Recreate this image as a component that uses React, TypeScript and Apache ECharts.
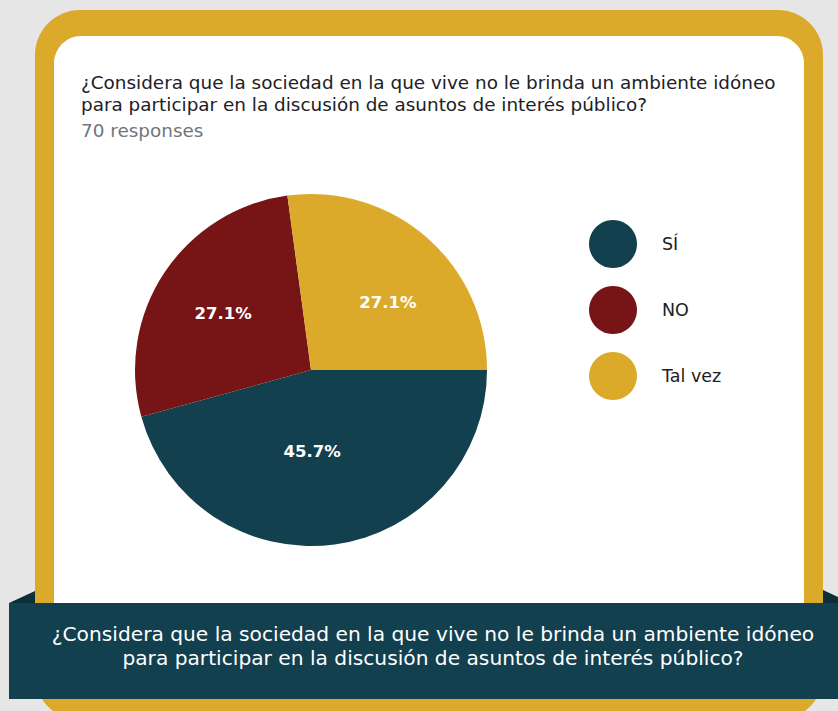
import React, { useEffect, useRef } from "react";
import * as echarts from "echarts";

const categories = ["SÍ", "NO", "Tal vez"];
const counts = [32, 19, 19];
const sliceColors = ["#13404f", "#761416", "#dcaa2a"];
const questionLines = [
  "¿Considera que la sociedad en la que vive no le brinda un ambiente idóneo",
  "para participar en la discusión de asuntos de interés público?",
];
const responsesText = "70 responses";
const labelOffsets = [[-11, -9], [-12, -6], [17, 1]];

const FONT = "'DejaVu Sans', sans-serif";

export default function App() {
  const ref = useRef<HTMLDivElement>(null);
  useEffect(() => {
    if (!ref.current) return;
    const chart = echarts.init(ref.current, undefined, { renderer: "svg" });
    const total = counts.reduce((a, b) => a + b, 0);
    chart.setOption({
      animation: false,
      backgroundColor: "#e6e6e6",
      color: sliceColors,
      legend: {
        orient: "vertical",
        left: 584,
        top: 215,
        icon: "circle",
        itemWidth: 48,
        itemHeight: 48,
        itemGap: 18,
        selectedMode: false,
        data: categories,
        textStyle: {
          fontFamily: FONT,
          fontSize: 17.5,
          color: "#202124",
          padding: [0, 0, 0, 20],
        },
      },
      graphic: [
        {
          type: "rect",
          z: -10,
          shape: { x: 35, y: 10, width: 788, height: 710, r: 45 },
          style: { fill: "#dcaa2a" },
        },
        {
          type: "rect",
          z: -9,
          shape: { x: 54, y: 36, width: 750, height: 620, r: 27 },
          style: { fill: "#ffffff" },
        },
        {
          type: "text",
          x: 81,
          y: 82,
          style: {
            text: questionLines[0],
            font: `18.4px ${FONT}`,
            fill: "#202124",
            verticalAlign: "middle",
          },
        },
        {
          type: "text",
          x: 81,
          y: 104,
          style: {
            text: questionLines[1],
            font: `18.4px ${FONT}`,
            fill: "#202124",
            verticalAlign: "middle",
          },
        },
        {
          type: "text",
          x: 81,
          y: 130,
          style: {
            text: responsesText,
            font: `18.4px ${FONT}`,
            fill: "#70757a",
            verticalAlign: "middle",
          },
        },
        {
          type: "polygon",
          z: 5,
          shape: { points: [[9, 603], [35, 591], [35, 603]] },
          style: { fill: "#0d2f3a" },
        },
        {
          type: "polygon",
          z: 5,
          shape: { points: [[823, 590], [838, 597], [838, 603], [823, 603]] },
          style: { fill: "#0d2f3a" },
        },
        {
          type: "rect",
          z: 6,
          shape: { x: 9, y: 603, width: 829, height: 96 },
          style: { fill: "#13404f" },
        },
        {
          type: "text",
          z: 7,
          x: 433,
          y: 634,
          style: {
            text: questionLines[0],
            font: `20.2px ${FONT}`,
            fill: "#ffffff",
            align: "center",
            verticalAlign: "middle",
          },
        },
        {
          type: "text",
          z: 7,
          x: 433,
          y: 658,
          style: {
            text: questionLines[1],
            font: `20.2px ${FONT}`,
            fill: "#ffffff",
            align: "center",
            verticalAlign: "middle",
          },
        },
      ],
      series: [
        {
          type: "pie",
          center: [311, 370],
          radius: [0, 176],
          startAngle: 0,
          clockwise: true,
          avoidLabelOverlap: false,
          label: {
            show: true,
            position: "inside",
            formatter: (p: any) => ((p.value / total) * 100).toFixed(1) + "%",
            color: "#ffffff",
            fontFamily: FONT,
            fontWeight: "bold",
            fontSize: 16.5,
          },
          labelLine: { show: false },
          emphasis: { disabled: true },
          itemStyle: { borderWidth: 0 },
          data: categories.map((name, i) => ({
            name,
            value: counts[i],
            label: { offset: labelOffsets[i] },
          })),
        },
      ],
    });
    return () => chart.dispose();
  }, []);
  return (
    <div
      ref={ref}
      style={{ position: "fixed", left: 0, top: 0, width: 838, height: 711 }}
    />
  );
}
